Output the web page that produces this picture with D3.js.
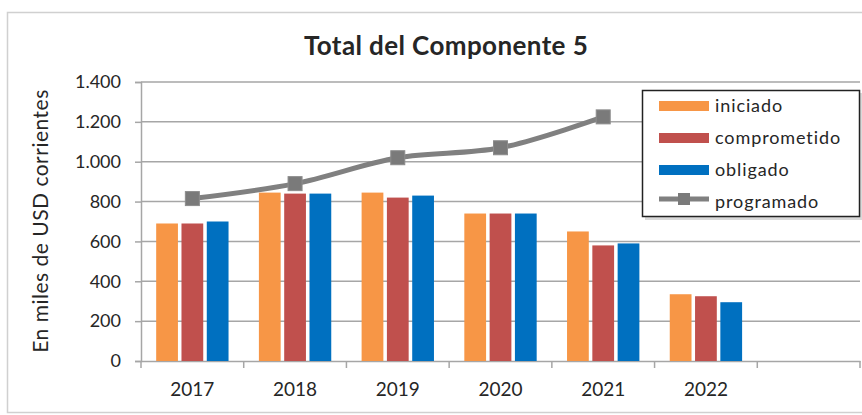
<!doctype html>
<html lang="es">
<head>
<meta charset="utf-8">
<title>Total del Componente 5</title>
<style>
  body { margin: 0; background: #fff; }
  svg text { font-family: Lato, "Open Sans", sans-serif; fill: #262626; }
</style>
</head>
<body>
<div id="chart"></div>
<script src="https://cdnjs.cloudflare.com/ajax/libs/d3/7.8.5/d3.min.js"></script>
<script>
// data
var years = ["2017", "2018", "2019", "2020", "2021", "2022", ""];
var iniciado = [690, 845, 845, 740, 650, 335];
var comprometido = [690, 840, 820, 740, 580, 325];
var obligado = [700, 840, 830, 740, 590, 295];
var programado = [815, 890, 1020, 1070, 1225];
var yTicks = [0, 200, 400, 600, 800, 1000, 1200, 1400];

var series = [
  { name: "iniciado", values: iniciado, color: "#F79646" },
  { name: "comprometido", values: comprometido, color: "#C0504D" },
  { name: "obligado", values: obligado, color: "#0070C0" }
];

var width = 862, height = 415;
var plotLeft = 141, plotRight = 860, plotTop = 82, plotBottom = 361;

var svg = d3.select("#chart").append("svg")
  .attr("width", width).attr("height", height);

// outer chart border
svg.append("rect")
  .attr("x", 7.5).attr("y", 12.5).attr("width", 860).attr("height", 400)
  .attr("fill", "none").attr("stroke", "#d0d0d0").attr("stroke-width", 1.5);

var x0 = d3.scaleBand().domain(years).range([plotLeft, plotRight]).padding(0);
var x1 = d3.scaleBand().domain(series.map(function (s) { return s.name; }))
  .range([0, x0.bandwidth()]).paddingInner(0.14).paddingOuter(0.6);
var y = d3.scaleLinear().domain([0, 1400]).range([plotBottom, plotTop]);

var fmt = d3.formatLocale({ decimal: ",", thousands: ".", grouping: [3], currency: ["", ""] }).format(",");

// gridlines
svg.append("g").selectAll("line").data(yTicks.slice(1)).enter().append("line")
  .attr("x1", plotLeft).attr("x2", plotRight)
  .attr("y1", function (d) { return y(d); }).attr("y2", function (d) { return y(d); })
  .attr("stroke", "#a6a6a6").attr("stroke-width", 1.5);

// y axis
var yAxis = svg.append("g").attr("transform", "translate(" + plotLeft + ",0)")
  .call(d3.axisLeft(y).tickValues(yTicks).tickFormat(fmt).tickSize(6).tickPadding(14));
yAxis.select(".domain").attr("stroke", "#a6a6a6").attr("stroke-width", 1.5);
yAxis.selectAll(".tick line").attr("stroke", "#a6a6a6").attr("stroke-width", 1.5);
yAxis.selectAll("text").style("font-size", "18px").attr("fill", "#333");

// x axis
var xAxis = svg.append("g").attr("transform", "translate(0," + plotBottom + ")")
  .call(d3.axisBottom(x0).tickSize(0).tickPadding(22));
xAxis.select(".domain").attr("stroke", "#a6a6a6").attr("stroke-width", 1.5);
xAxis.selectAll("text").style("font-size", "19px").attr("fill", "#333");
// tick marks on category boundaries
svg.append("g").selectAll("line").data(years.concat(["end"])).enter().append("line")
  .attr("x1", function (d, i) { return plotLeft + i * x0.step(); })
  .attr("x2", function (d, i) { return plotLeft + i * x0.step(); })
  .attr("y1", plotBottom).attr("y2", plotBottom + 7)
  .attr("stroke", "#a6a6a6").attr("stroke-width", 1.5);

// bars
series.forEach(function (s) {
  svg.append("g").selectAll("rect").data(s.values).enter().append("rect")
    .attr("x", function (d, i) { return x0(years[i]) + x1(s.name); })
    .attr("y", function (d) { return y(d); })
    .attr("width", x1.bandwidth())
    .attr("height", function (d) { return plotBottom - y(d); })
    .attr("fill", s.color);
});

// programado line
var line = d3.line()
  .x(function (d, i) { return x0(years[i]) + x0.bandwidth() / 2; })
  .y(function (d) { return y(d); })
  .curve(d3.curveCatmullRom.alpha(0.5));
svg.append("path").datum(programado)
  .attr("d", line).attr("fill", "none")
  .attr("stroke", "#808080").attr("stroke-width", 5);
svg.append("g").selectAll("rect").data(programado).enter().append("rect")
  .attr("x", function (d, i) { return x0(years[i]) + x0.bandwidth() / 2 - 7; })
  .attr("y", function (d) { return y(d) - 7; })
  .attr("width", 14).attr("height", 14)
  .attr("fill", "#7a7a7a").attr("stroke", "#8c8c8c").attr("stroke-width", 1);

// title
svg.append("text").attr("x", 446).attr("y", 55)
  .attr("text-anchor", "middle").style("font-size", "26px").style("font-weight", "bold")
  .style("letter-spacing", "0.4px")
  .attr("fill", "#111").text("Total del Componente 5");

// y label
svg.append("text")
  .attr("transform", "translate(48," + 221 + ") rotate(-90)")
  .attr("text-anchor", "middle").style("font-size", "21px").style("letter-spacing", "0.5px")
  .attr("fill", "#333")
  .text("En miles de USD corrientes");

// legend
var lg = svg.append("g").attr("transform", "translate(642,90)");
lg.append("rect").attr("x", 3).attr("y", 3).attr("width", 218).attr("height", 127)
  .attr("fill", "#bfbfbf").attr("opacity", 0.6);
lg.append("rect").attr("x", 0.5).attr("y", 0.5).attr("width", 217).attr("height", 126)
  .attr("fill", "#fff").attr("stroke", "#222").attr("stroke-width", 1.5);
var items = series.map(function (s) { return { name: s.name, color: s.color, type: "bar" }; })
  .concat([{ name: "programado", color: "#808080", type: "line" }]);
items.forEach(function (it, i) {
  var cy = 16 + i * 32;
  if (it.type === "bar") {
    lg.append("rect").attr("x", 17).attr("y", cy - 5).attr("width", 50).attr("height", 10).attr("fill", it.color);
  } else {
    lg.append("line").attr("x1", 17).attr("x2", 67).attr("y1", cy - 3).attr("y2", cy - 3)
      .attr("stroke", it.color).attr("stroke-width", 5);
    lg.append("rect").attr("x", 36).attr("y", cy - 9).attr("width", 12).attr("height", 12).attr("fill", "#7a7a7a");
  }
  lg.append("text").attr("x", 73).attr("y", cy + 6).style("font-size", "18px").style("letter-spacing", "0.9px")
    .attr("fill", "#111").text(it.name);
});
</script>
</body>
</html>
